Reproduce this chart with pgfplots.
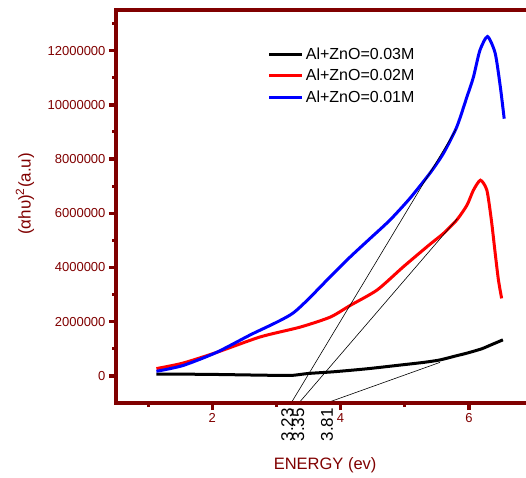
\documentclass[border=0pt]{standalone}
\usepackage{fontspec}
\setmainfont{Liberation Sans}
\usepackage{pgfplots}
\pgfplotsset{compat=1.18}
\definecolor{axred}{RGB}{128,0,0}
\definecolor{myred}{RGB}{255,0,0}
\definecolor{myblue}{RGB}{0,0,255}
\begin{document}
\begin{tikzpicture}
\begin{axis}[
  scale only axis, width=410pt, height=393pt,
  xmin=0.5, xmax=6.89, ymin=-1000000, ymax=13500000,
  scaled y ticks=false, scaled x ticks=false,
  axis line style={draw=none},
  tick pos=left,
  xtick={2,4,6}, minor xtick={1,3,5},
  xticklabels={2,4,6},
  ytick={0,2000000,4000000,6000000,8000000,10000000,12000000},
  yticklabels={0,2000000,4000000,6000000,8000000,10000000,12000000},
  minor ytick={1000000,3000000,5000000,7000000,9000000,11000000,13000000},
  tick align=outside,
  major tick length=7pt, minor tick length=4pt,
  tick style={axred, line width=3.4pt},
  minor tick style={line width=3pt},
  xticklabel style={axred, font=\fontsize{13}{15}\selectfont},
  yticklabel style={axred, font=\fontsize{13}{15}\selectfont},
  /pgf/number format/assume math mode=true,
  xlabel={ENERGY (ev)},
  ylabel={(αhυ)\textsuperscript{2}(a.u)},
  xlabel style={axred, font=\fontsize{16.5}{19}\selectfont, at={(axis description cs:0.51,0)}, anchor=center, yshift=-62pt},
  ylabel style={axred, font=\fontsize{17}{19}\selectfont, at={(axis description cs:-0.222,0.532)}, anchor=center, rotate=0},
  legend style={at={(axis description cs:0.37,0.91)}, anchor=north west, draw=none, fill=none,
    font=\fontsize{16}{19}\selectfont, row sep=4.5pt, inner sep=0pt},
  legend cell align=left,
  legend image code/.code={\draw[#1, line width=3pt] (0pt,0pt) -- (33pt,0pt);},
  clip=false,
]
\addplot[black, line width=3pt, smooth, tension=0.4] coordinates {
(1.13,70000)(1.5,65000)(2.0,55000)(2.69,30000)(3.0,20000)(3.25,20000)
(3.5,90000)(3.88,150000)(4.4,260000)(4.93,400000)(5.3,500000)(5.55,590000)(5.8,740000)
(5.97,840000)(6.2,1000000)(6.35,1150000)(6.53,1330000)};
\addlegendentry{Al+ZnO=0.03M}
\addplot[myred, line width=3pt, smooth, tension=0.4] coordinates {
(1.13,270000)(1.54,470000)(2.06,860000)(2.75,1440000)(3.37,1800000)(3.84,2170000)(4.15,2600000)
(4.57,3170000)(4.98,4030000)(5.39,4850000)(5.6,5250000)(5.81,5750000)(5.97,6300000)(6.07,6850000)
(6.18,7220000)(6.28,6850000)(6.35,5750000)(6.41,4520000)(6.46,3540000)(6.51,2860000)};
\addlegendentry{Al+ZnO=0.02M}
\addplot[myblue, line width=3pt, smooth, tension=0.4] coordinates {
(1.13,170000)(1.54,380000)(2.06,860000)(2.59,1510000)(3.26,2320000)(3.84,3660000)(4.15,4390000)
(4.46,5070000)(4.77,5750000)(5.08,6550000)(5.39,7470000)(5.6,8200000)(5.81,9180000)(5.97,10300000)
(6.07,11020000)(6.17,12000000)(6.29,12520000)(6.41,11900000)(6.49,10660000)(6.55,9490000)};
\addlegendentry{Al+ZnO=0.01M}
\addplot[black, line width=0.6pt, forget plot] coordinates {(3.23,-1000000)(5.8,9100000)};
\addplot[black, line width=0.6pt, forget plot] coordinates {(3.35,-1000000)(5.82,5800000)};
\addplot[black, line width=0.6pt, forget plot] coordinates {(3.78,-1000000)(5.55,500000)};
\node[rotate=90, anchor=east, font=\fontsize{17}{19}\selectfont, inner sep=0pt] at ([yshift=-5pt]axis cs:3.17,-1000000) {3.23};
\node[rotate=90, anchor=east, font=\fontsize{17}{19}\selectfont, inner sep=0pt] at ([yshift=-5pt]axis cs:3.34,-1000000) {3.35};
\node[rotate=90, anchor=east, font=\fontsize{17}{19}\selectfont, inner sep=0pt] at ([yshift=-5pt]axis cs:3.79,-1000000) {3.81};
\draw[axred, line width=3.2pt, line cap=rect] (rel axis cs:1.05,1) -- (rel axis cs:0,1) -- (rel axis cs:0,0) -- (rel axis cs:1.05,0);
\coordinate (bl) at (rel axis cs:0,0);
\end{axis}
\pgfresetboundingbox
\useasboundingbox ([shift={(-116pt,-74pt)}]bl) rectangle ([shift={(410pt,403pt)}]bl);
\end{tikzpicture}
\end{document}
